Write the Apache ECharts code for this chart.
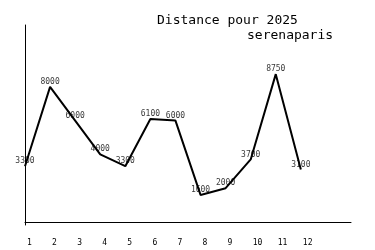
<!DOCTYPE html>
<html><head><meta charset="utf-8">
<script src="https://cdn.jsdelivr.net/npm/echarts@6/dist/echarts.min.js"></script>
<style>html,body{margin:0;padding:0;background:#fff}#c{width:375px;height:250px}</style>
</head><body><div id="c"></div>
<script>
var months = [1,2,3,4,5,6,7,8,9,10,11,12];
var distances = [3300,8000,6000,4000,3300,6100,6000,1600,2000,3700,8750,3100];
var titleText = "Distance pour 2025";
var subtitleText = "serenaparis";

var pts = months.map(function(m,i){return [m, distances[i]];});
var chart = echarts.init(document.getElementById('c'), null, {renderer:'canvas'});
var mono = "DejaVu Sans Mono";
chart.setOption({
  animation:false,
  backgroundColor:'#fff',
  title:[
    {text:titleText, left:152, top:9, textStyle:{fontFamily:mono, fontSize:13, fontWeight:'normal', color:'#000'}},
    {text:subtitleText, left:242, top:24, textStyle:{fontFamily:mono, fontSize:13, fontWeight:'normal', color:'#000'}}
  ],
  grid:{left:25, top:25, right:24, bottom:25, containLabel:false},
  xAxis:{type:'value', min:1, max:14, interval:1,
    axisLine:{show:true, lineStyle:{color:'#000', width:1}},
    axisTick:{show:false}, splitLine:{show:false},
    axisLabel:{fontFamily:mono, fontSize:8, color:'#000', margin:14, align:'left', padding:[0,0,0,2],
      formatter:function(v){return v<=12 ? String(v) : '';}}
  },
  yAxis:{type:'value', min:-180, max:11660,
    axisLine:{show:true, lineStyle:{color:'#000', width:1}},
    axisTick:{show:false}, splitLine:{show:false}, axisLabel:{show:false}
  },
  series:[
    {type:'scatter', data:pts, z:1, symbolSize:2, itemStyle:{color:'rgba(0,0,0,0)'},
      label:{show:true, position:'top', distance:0, fontFamily:mono, fontSize:8, color:'#000',
        formatter:function(p){return String(p.value[1]);}},
      silent:true},
    {type:'line', data:pts, z:5, symbol:'none', lineStyle:{color:'#000', width:2}}
  ]
});
</script></body></html>
